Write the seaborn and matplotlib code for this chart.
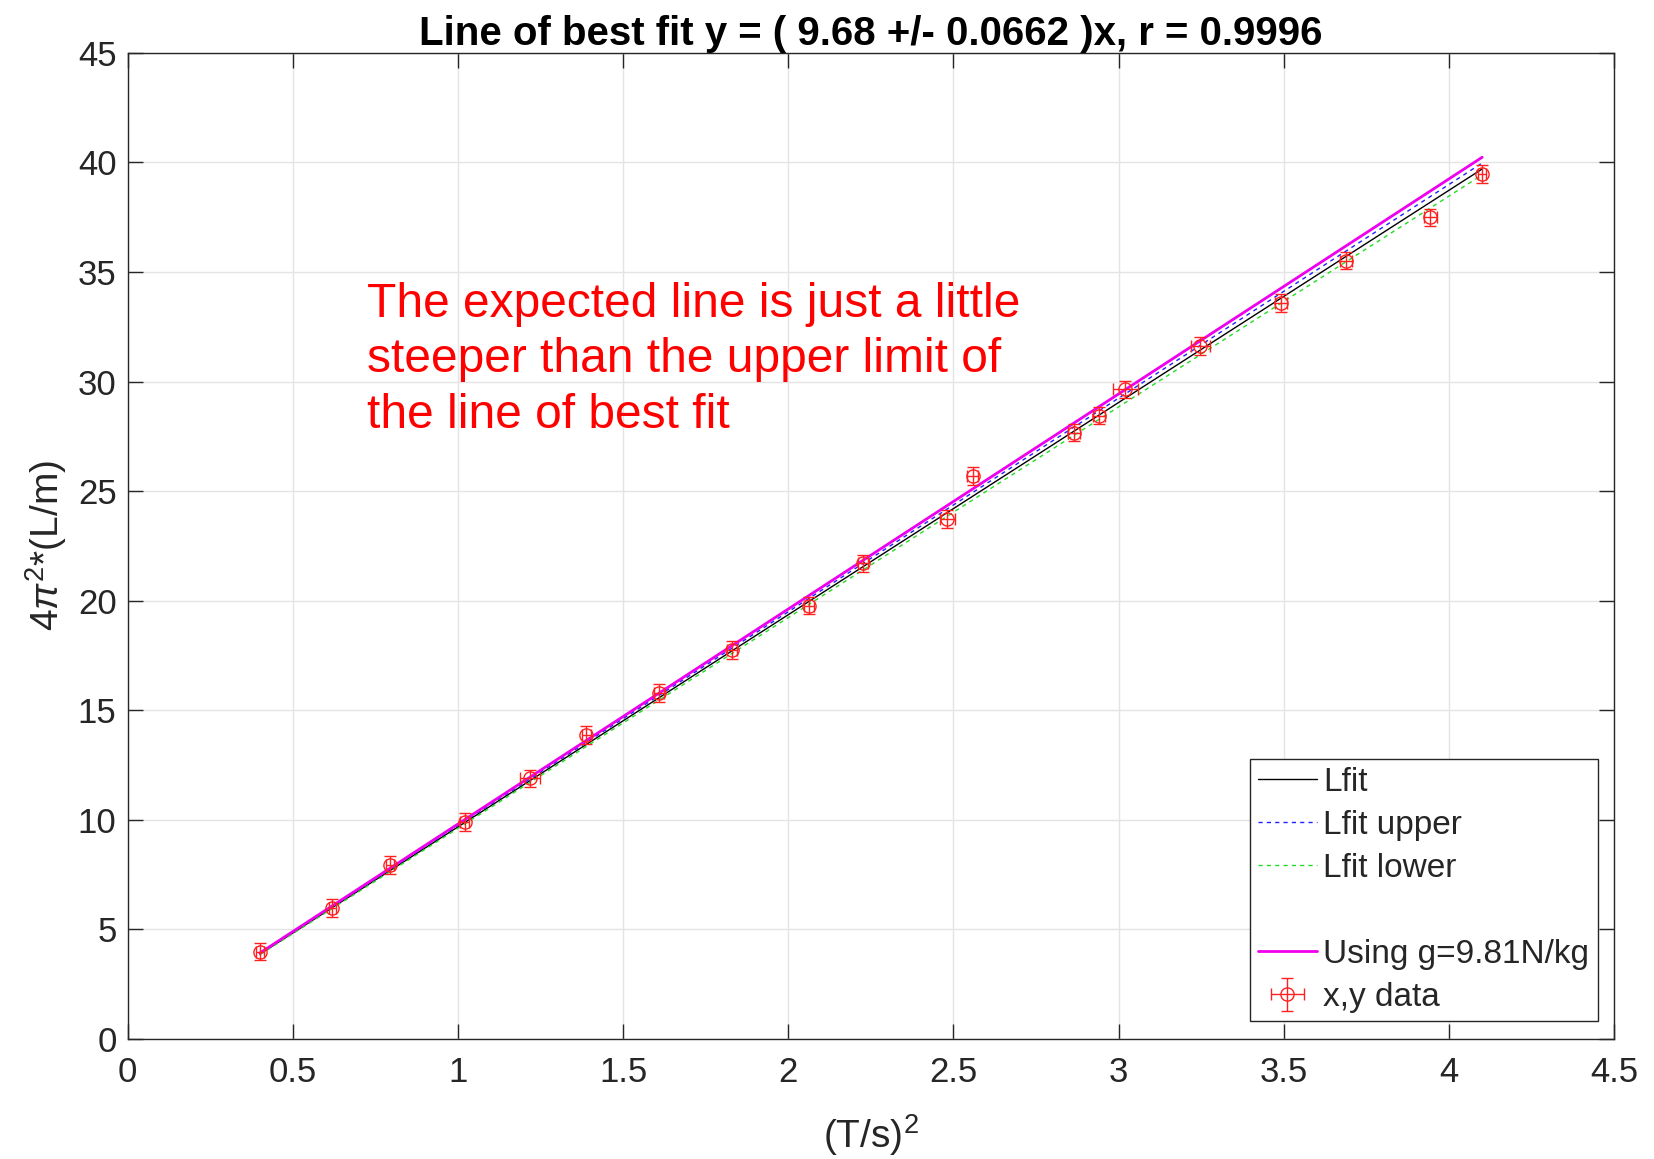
import numpy as np
import matplotlib
matplotlib.use("Agg")
import matplotlib.pyplot as plt
from matplotlib.lines import Line2D
import seaborn as sns

# Measured data: period squared (s^2) and 4*pi^2*L/m
t_sq = np.array([0.40, 0.62, 0.795, 1.02, 1.217, 1.389, 1.61, 1.83, 2.063, 2.226,
                 2.482, 2.558, 2.865, 2.94, 3.02, 3.248, 3.491, 3.689, 3.944, 4.101])
y_val = np.array([3.99, 5.97, 7.94, 9.91, 11.89, 13.86, 15.78, 17.76, 19.78, 21.70,
                  23.72, 25.70, 27.67, 28.44, 29.64, 31.62, 33.59, 35.52, 37.49, 39.46])
x_err = np.array([0.012, 0.012, 0.012, 0.014, 0.030, 0.014, 0.015, 0.015, 0.016, 0.016,
                  0.022, 0.016, 0.018, 0.018, 0.038, 0.030, 0.018, 0.018, 0.020, 0.012])
y_err = np.full(t_sq.shape, 0.4)

slope = 9.68
slope_err = 0.0662
r_value = 0.9996
g_expected = 9.81

sns.set_theme(style="whitegrid")
plt.rcParams["font.family"] = ["Liberation Sans", "DejaVu Sans"]
plt.rcParams["mathtext.fontset"] = "custom"
plt.rcParams["mathtext.rm"] = "Liberation Sans"
plt.rcParams["mathtext.it"] = "Liberation Sans:italic"

fig = plt.figure(figsize=(16.54, 11.59), dpi=100)
ax = fig.add_axes([0.0772, 0.1035, 0.8986, 0.851])
ax.set_facecolor("white")

sns.lineplot(x=t_sq, y=slope * t_sq, ax=ax, color="black", linewidth=1.0, label="Lfit")
sns.lineplot(x=t_sq, y=(slope + slope_err) * t_sq, ax=ax, color="#2020ff",
             linewidth=1.0, linestyle=(0, (3, 3)), label="Lfit upper")
sns.lineplot(x=t_sq, y=(slope - slope_err) * t_sq, ax=ax, color="#22dd22",
             linewidth=1.0, linestyle=(0, (3, 3)), label="Lfit lower")
sns.lineplot(x=t_sq, y=g_expected * t_sq, ax=ax, color="#ee00ee", linewidth=2.0,
             label="Using g=9.81N/kg")
ax.errorbar(t_sq, y_val, xerr=x_err, yerr=y_err, fmt="o", color="#ff2020",
            mfc="none", mec="#ff2020", markersize=9.5, elinewidth=1.0,
            capsize=4, capthick=1.0, label="x,y data", zorder=5)

ax.set_xlim(0, 4.5)
ax.set_ylim(0, 45)
ax.set_xticks(np.arange(0, 4.51, 0.5))
ax.set_xticklabels(["0", "0.5", "1", "1.5", "2", "2.5", "3", "3.5", "4", "4.5"])
ax.set_yticks(np.arange(0, 46, 5))
ax.grid(True, color="#e4e4e4", linewidth=1.0)
ax.tick_params(axis="both", which="both", direction="in", length=11, width=1,
               colors="#262626", labelsize=25, top=True, right=True,
               bottom=True, left=True)
ax.tick_params(axis="x", pad=12)
ax.tick_params(axis="y", pad=8)
for sp in ax.spines.values():
    sp.set_visible(True)
    sp.set_color("#262626")
    sp.set_linewidth(1.0)

ax.set_xlabel(r"(T/s)$^2$", fontsize=28, color="#262626", labelpad=17)
ax.set_ylabel(r"4$\pi^2$*(L/m)", fontsize=28, color="#262626", labelpad=6)
ax.set_title(f"Line of best fit y = ( {slope:.2f} +/- {slope_err:.4f} )x, r = {r_value:.4f}",
             fontsize=29, fontweight="bold", color="black", pad=4)

ax.text(0.161, 0.768,
        "The expected line is just a little\nsteeper than the upper limit of\nthe line of best fit",
        transform=ax.transAxes, color="red", fontsize=34.5, ha="left", va="top",
        linespacing=1.3)

handles, labels = ax.get_legend_handles_labels()
hmap = dict(zip(labels, handles))
blank = Line2D([], [], linestyle="none", marker=None)
order = ["Lfit", "Lfit upper", "Lfit lower", None, "Using g=9.81N/kg", "x,y data"]
leg_handles = [hmap[k] if k else blank for k in order]
leg_labels = [k if k else " " for k in order]
leg = ax.legend(leg_handles, leg_labels, loc="lower right",
                bbox_to_anchor=(0.989, 0.018), fontsize=24, frameon=True,
                fancybox=False, framealpha=1, edgecolor="#262626",
                handlelength=1.75, handletextpad=0.2, labelspacing=0.36,
                borderpad=0.25, borderaxespad=0)
leg.get_frame().set_linewidth(1.0)

fig.savefig("out.png", dpi=100, facecolor="white")
